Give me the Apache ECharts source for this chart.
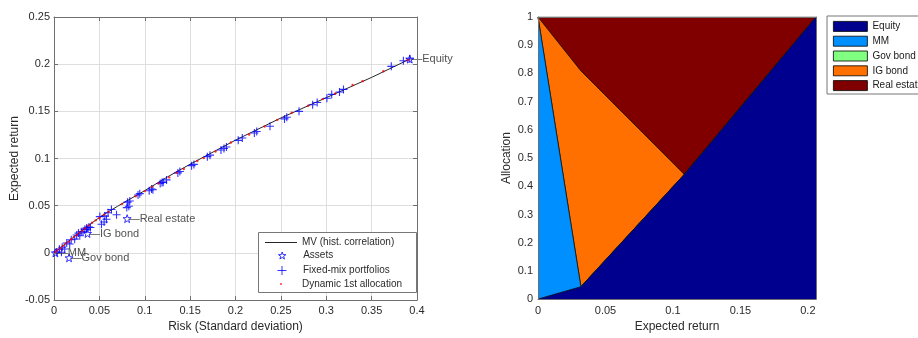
<!DOCTYPE html>
<html>
<head>
<meta charset="utf-8">
<script src="https://cdn.jsdelivr.net/npm/echarts@6/dist/echarts.min.js"></script>
<style>html,body{margin:0;padding:0;background:#fff}#c{width:918px;height:338px}</style>
</head>
<body>
<div id="c"></div>
<script>
// ---- Left chart data ----
const mvRisk   = [0, 0.01, 0.02, 0.03, 0.04, 0.05, 0.06, 0.07, 0.08, 0.09, 0.1, 0.125, 0.15, 0.2, 0.25, 0.3, 0.35, 0.392];
const mvReturn = [0, 0.0078, 0.0155, 0.023, 0.0305, 0.0375, 0.0437, 0.0494, 0.055, 0.0605, 0.066, 0.0805, 0.094, 0.1195, 0.143, 0.1645, 0.186, 0.2054];

const assetNames  = ['Equity', 'MM', 'Gov bond', 'IG bond', 'Real estate'];
const assetRisk   = [0.392, 0.0015, 0.0166, 0.0369, 0.0806];
const assetReturn = [0.2054, 0.0, -0.0052, 0.0206, 0.0363];

const fixRisk = [0.392, 0.385, 0.3717, 0.319, 0.3146, 0.306, 0.3007, 0.290, 0.285, 0.270, 0.2565, 0.254, 0.238, 0.2234, 0.2208, 0.2075,
  0.203, 0.190, 0.1873, 0.184, 0.1719, 0.169, 0.1542, 0.1516, 0.1387, 0.1365, 0.124, 0.1203, 0.117, 0.1075, 0.1049,
  0.0926, 0.0945, 0.081, 0.0835, 0.0802, 0.0825, 0.109, 0.119, 0.0689, 0.0596,
  0.0578, 0.0552, 0.0523, 0.056, 0.0633, 0.0505, 0.0402, 0.0364, 0.032, 0.0284, 0.0228, 0.0173, 0.0118, 0.0082,
  0.003, 0.006, 0.009, 0.014, 0.019, 0.025, 0.027, 0.03, 0.034, 0.036, 0.0385];
const fixReturn = [0.2058, 0.2037, 0.1977, 0.1733, 0.1705, 0.168, 0.1639, 0.1594, 0.157, 0.150, 0.1437, 0.142, 0.1343, 0.1287, 0.127, 0.1218,
  0.1193, 0.1123, 0.1106, 0.109, 0.1036, 0.102, 0.0938, 0.0925, 0.0862, 0.0848, 0.0774, 0.075, 0.0735, 0.0677, 0.0659,
  0.0614, 0.0628, 0.0538, 0.055, 0.048, 0.0495, 0.067, 0.0747, 0.0405, 0.0426,
  0.0356, 0.0328, 0.0303, 0.039, 0.046, 0.0385, 0.0269, 0.0251, 0.0224, 0.0182, 0.0146, 0.0094, 0.0042, 0.0007,
  0.001, 0.004, 0.006, 0.0105, 0.014, 0.019, 0.021, 0.0225, 0.025, 0.0265, 0.0275];

const dynRisk = [0.002, 0.004, 0.007, 0.01, 0.013, 0.016, 0.019, 0.022, 0.025, 0.028, 0.031, 0.034, 0.038, 0.042, 0.046, 0.05, 0.055, 0.06,
  0.075, 0.09, 0.1, 0.108, 0.115, 0.127, 0.135, 0.143, 0.158, 0.165, 0.178, 0.195, 0.215, 0.232, 0.246, 0.262, 0.28, 0.296, 0.31, 0.329, 0.34, 0.363, 0.39];
const dynReturn = [0.001, 0.003, 0.005, 0.0075, 0.01, 0.012, 0.0145, 0.017, 0.019, 0.0215, 0.0235, 0.026, 0.029, 0.032, 0.0345, 0.037, 0.0405, 0.0435,
  0.052, 0.06, 0.0655, 0.07, 0.0735, 0.08, 0.085, 0.089, 0.0975, 0.1005, 0.1075, 0.117, 0.1255, 0.134, 0.141, 0.1485, 0.156, 0.163, 0.169, 0.178, 0.182, 0.1925, 0.2045];

// ---- Right chart data ----
const allocReturn = [0, 0.0318, 0.1084, 0.206];
const equityAlloc = [0, 0.044, 0.442, 1];
const mmAlloc     = [1, 0, 0, 0];
const govAlloc    = [0, 0, 0, 0];
const igAlloc     = [0, 0.765, 0, 0];
const reAlloc     = [0, 0.191, 0.558, 0];

const allocNames  = ['Equity', 'MM', 'Gov bond', 'IG bond', 'Real estate'];
const allocColors = ['#00008F', '#008FFF', '#80FF80', '#FF7000', '#800000'];
const allocData   = [equityAlloc, mmAlloc, govAlloc, igAlloc, reAlloc];

const zip = (a, b) => a.map((v, i) => [v, b[i]]);

// cumulative stacks (built from the allocation arrays)
const cumAlloc = [];
allocData.forEach((arr, k) => {
  cumAlloc.push(arr.map((v, i) => v + (k > 0 ? cumAlloc[k - 1][i] : 0)));
});

const FONT = '"Liberation Sans", Arial, Helvetica, sans-serif';
const TXT = '#2b2b2b';
const AX = '#707070';
const STAR = 'path://M10,0L12.35,6.76L19.51,6.91L13.8,11.24L15.88,18.09L10,14L4.12,18.09L6.2,11.24L0.49,6.91L7.65,6.76Z';
const PLUS = 'path://M5,0L5,10M0,5L10,5';

const chart = echarts.init(document.getElementById('c'), null, {renderer: 'canvas'});

const fmtTick = v => {
  const r = Math.round(v / 0.05);
  if (Math.abs(v / 0.05 - r) > 1e-6) return '';
  return String(+(r * 0.05).toFixed(4));
};

function boxAxis(kind, pos, grid, min, max, interval) {
  return {
    type: 'value', gridIndex: grid, position: pos, min: min, max: max, interval: interval,
    axisLine: {show: true, onZero: false, lineStyle: {color: AX, width: 1}},
    axisTick: {show: kind, inside: true, length: 4, lineStyle: {color: AX}},
    axisLabel: {show: false}, splitLine: {show: false}, z: 5
  };
}

const legText = {fontSize: 10, lineHeight: 12, color: TXT, fontFamily: FONT};

const option = {
  animation: false,
  textStyle: {fontFamily: FONT},
  grid: [
    {left: 54, top: 17, width: 363, height: 287},
    {left: 538, top: 17, width: 278, height: 286}
  ],
  xAxis: [
    {
      type: 'value', gridIndex: 0, min: 0, max: 0.4, interval: 0.05,
      name: 'Risk (Standard deviation)', nameLocation: 'middle', nameGap: 19,
      nameTextStyle: {fontSize: 12, color: TXT, fontFamily: FONT},
      axisLine: {show: true, onZero: false, lineStyle: {color: AX}},
      axisTick: {inside: true, length: 4, lineStyle: {color: AX}},
      axisLabel: {fontSize: 11, color: TXT, margin: 5, fontFamily: FONT},
      splitLine: {show: true, lineStyle: {color: '#dedede', width: 1}}
    },
    boxAxis(true, 'top', 0, 0, 0.4, 0.05),
    {
      type: 'value', gridIndex: 1, min: 0, max: 0.206, interval: 0.05,
      name: 'Expected return', nameLocation: 'middle', nameGap: 21,
      nameTextStyle: {fontSize: 12, color: TXT, fontFamily: FONT},
      axisLine: {show: true, onZero: false, lineStyle: {color: AX}},
      axisTick: {show: false},
      axisLabel: {fontSize: 11, color: TXT, margin: 6, fontFamily: FONT, formatter: fmtTick},
      splitLine: {show: false}, z: 5
    },
    boxAxis(false, 'top', 1, 0, 0.206, 0.05)
  ],
  yAxis: [
    {
      type: 'value', gridIndex: 0, min: -0.05, max: 0.25, interval: 0.05,
      name: 'Expected return', nameLocation: 'middle', nameGap: 33,
      nameTextStyle: {fontSize: 12, color: TXT, fontFamily: FONT},
      axisLine: {show: true, onZero: false, lineStyle: {color: AX}},
      axisTick: {inside: true, length: 4, lineStyle: {color: AX}},
      axisLabel: {fontSize: 11, color: TXT, margin: 4, fontFamily: FONT},
      splitLine: {show: true, lineStyle: {color: '#dedede', width: 1}}
    },
    boxAxis(true, 'right', 0, -0.05, 0.25, 0.05),
    {
      type: 'value', gridIndex: 1, min: 0, max: 1, interval: 0.1,
      name: 'Allocation', nameLocation: 'middle', nameGap: 25,
      nameTextStyle: {fontSize: 12, color: TXT, fontFamily: FONT},
      axisLine: {show: true, onZero: false, lineStyle: {color: AX}},
      axisTick: {show: false},
      axisLabel: {fontSize: 11, color: TXT, margin: 5, fontFamily: FONT},
      splitLine: {show: false}, z: 5
    },
    boxAxis(false, 'right', 1, 0, 1, 0.1)
  ],
  legend: [
    {
      data: ['MV (hist. correlation)'], left: 265, top: 236.5, orient: 'vertical', padding: 0,
      itemWidth: 32, itemHeight: 1, icon: 'rect', itemStyle: {color: '#262626', borderWidth: 0},
      textStyle: legText, selectedMode: false, z: 8
    },
    {
      data: ['Assets'], left: 278, top: 249.5, orient: 'vertical', padding: 0,
      itemWidth: 32, itemHeight: 7,
      itemStyle: {color: 'rgba(0,0,0,0)', borderColor: '#0000FF', borderWidth: 1},
      textStyle: legText, selectedMode: false, z: 8
    },
    {
      data: ['Fixed-mix portfolios'], left: 277, top: 264.5, orient: 'vertical', padding: 0,
      itemWidth: 32, itemHeight: 9,
      itemStyle: {color: 'rgba(0,0,0,0)', borderColor: '#0000FF', borderWidth: 1},
      textStyle: legText, selectedMode: false, z: 8
    },
    {
      data: ['Dynamic 1st allocation'], left: 280, top: 278, orient: 'vertical', padding: 0,
      itemWidth: 32, itemHeight: 2, icon: 'circle',
      itemStyle: {color: '#FF0000', borderWidth: 0},
      textStyle: legText, selectedMode: false, z: 8
    },
    {
      data: allocNames, left: 827, top: 16, orient: 'vertical',
      padding: [5, 6, 3, 6], itemGap: 4, itemWidth: 34, itemHeight: 10, icon: 'rect',
      itemStyle: {borderColor: '#000', borderWidth: 0.8},
      textStyle: {fontSize: 10, lineHeight: 10, color: '#1a1a1a', fontFamily: FONT},
      borderColor: '#777', borderWidth: 1, backgroundColor: '#fff', selectedMode: false, z: 8
    }
  ],
  graphic: [
    {type: 'rect', left: 258, top: 232, shape: {width: 158, height: 60}, z: 7,
     style: {fill: '#fff', stroke: '#777', lineWidth: 1}}
  ],
  series: [
    {
      name: 'MV (hist. correlation)', type: 'line', xAxisIndex: 0, yAxisIndex: 0,
      data: zip(mvRisk, mvReturn), symbol: 'none', smooth: false,
      lineStyle: {color: '#262626', width: 1}, itemStyle: {color: '#262626'}, z: 2
    },
    {
      name: 'Assets', type: 'scatter', xAxisIndex: 0, yAxisIndex: 0,
      data: assetNames.map((n, i) => ({name: n, value: [assetRisk[i], assetReturn[i]]})),
      symbol: STAR, symbolSize: 8,
      itemStyle: {color: 'rgba(0,0,0,0)', borderColor: '#0000FF', borderWidth: 1},
      label: {show: true, position: 'right', distance: -3, formatter: '\u2014{b}',
              fontSize: 11, color: '#262626', fontFamily: FONT},
      z: 4
    },
    {
      name: 'Fixed-mix portfolios', type: 'scatter', xAxisIndex: 0, yAxisIndex: 0,
      data: zip(fixRisk, fixReturn), symbol: PLUS, symbolSize: 8,
      itemStyle: {color: 'rgba(0,0,0,0)', borderColor: '#0000FF', borderWidth: 1.1},
      z: 3
    },
    {
      name: 'Dynamic 1st allocation', type: 'scatter', xAxisIndex: 0, yAxisIndex: 0,
      data: zip(dynRisk, dynReturn), symbol: 'circle', symbolSize: 2.4,
      itemStyle: {color: '#FF0000'}, z: 5
    }
  ].concat(allocNames.map((n, k) => ({
    name: n, type: 'line', xAxisIndex: 2, yAxisIndex: 2,
    data: zip(allocReturn, cumAlloc[k]), symbol: 'none',
    lineStyle: {color: '#111', width: 0.8},
    itemStyle: {color: allocColors[k]},
    areaStyle: {color: allocColors[k], opacity: 1, origin: 'start'},
    z: 2 + (allocNames.length - k) * 0.1
  })))
};

chart.setOption(option);
</script>
</body>
</html>
